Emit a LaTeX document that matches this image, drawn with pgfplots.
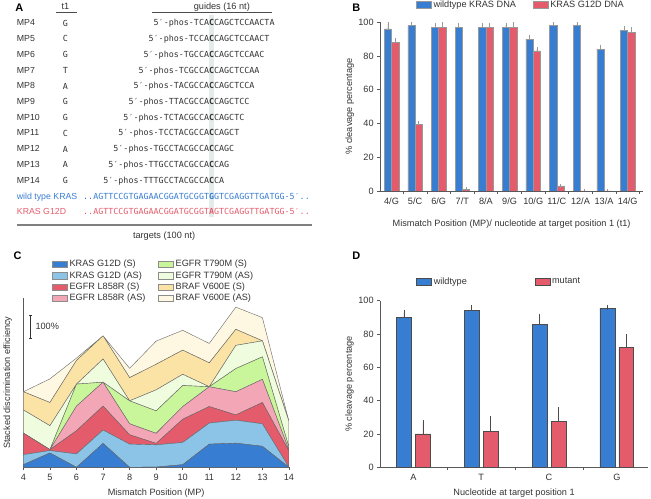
\documentclass[border=0pt]{standalone}
\usepackage{pgfplots}
\pgfplotsset{compat=1.18}
\usepackage{pgfplotstable}
\usepackage{fontspec}
\setmainfont{Liberation Sans}
\newfontfamily\mono{DejaVu Sans Mono}
\usetikzlibrary{arrows.meta}

\definecolor{kblue}{HTML}{377DD2}
\definecolor{kred}{HTML}{E45C6C}
\definecolor{lblue}{HTML}{8CC4E8}
\definecolor{lpink}{HTML}{F3A6B6}
\definecolor{lgreen}{HTML}{C9F59B}
\definecolor{pgreen}{HTML}{EFFCDD}
\definecolor{lorange}{HTML}{FBE3A5}
\definecolor{cream}{HTML}{FEF8E3}
\definecolor{txt}{HTML}{333333}
\definecolor{hl}{HTML}{E4ECEA}

\newcommand\lab{\fontsize{9.2}{11}\selectfont}
\newcommand\alab{\fontsize{8.8}{10}\selectfont}
\newcommand\seq{\mono\fontsize{8.4}{10}\selectfont}
\newlength\cw

% panel B: cleavage per mismatch position
\pgfplotstableread{
x wt wte mu mue
0 96 3 88 1.5
1 98 1.5 39.5 1
2 97 1.5 97 2
3 97 1.5 1 0.3
4 97 1.5 97 1.5
5 97 1.5 97 2
6 90 1.5 83 1
7 98 1.2 3 0
8 98 1.2 0 0
9 84 1.5 0 0
10 95 1.5 94 1.8
}\btab

% panel D: cleavage per nucleotide
\pgfplotstableread{
x wt wte mu mue
0 90 3 20 7
1 94 2 21.5 8
2 86 4.8 27.5 7.2
3 95.5 0.5 72 6.5
}\dtab

% panel C: stacked discrimination efficiency (%)
\pgfplotstableread{
x  ks   kas  ls   las  ts   tas  bs   bas
4  11   42   90   0    0    97   76   0
5  60   10   4    0    0    100  97   99
6  0    56   97   103  92   0    99   10
7  100  56   100  100  0    97   97   0
8  0    97   39   46   96   0    97   39
9  1    93   6    42   94   88   107  97
10 11   93   97   53   88   47   101  83
11 97   88   69   83   0    0    100  81
12 101  96   22   97   97   97   67   93
13 88   94   89   97   94   67   0    97
14 0    0    68   4    12   108  0    0
}\ctab

\pgfplotsset{
  swatch/.style={legend image code/.code={\draw[##1] (0pt,-3.3pt) rectangle (15pt,3.3pt);}},
  panel/.style={scale only axis, anchor=south west,
    axis x line*=bottom, axis y line*=left, tick align=outside,
    axis line style={draw=black!65, line width=0.6pt},
    every tick/.style={draw=black!65, line width=0.6pt},
    major tick length=3pt, minor tick length=3pt,
    tick label style={font=\lab, text=txt},
    label style={font=\lab, text=txt},
    /pgf/number format/assume math mode=true,
    legend style={draw=none, fill=none, inner sep=0pt, font=\lab, text=txt,
      nodes={inner xsep=2pt, inner ysep=1pt}},
    legend cell align=left,
  },
}

\begin{document}
\settowidth\cw{\seq A}
\begin{tikzpicture}
\useasboundingbox (0pt,0pt) rectangle (651pt,-501pt);

% ---------- panel A ----------
\fill[hl] ({207pt-0.3pt},-15pt) rectangle ({207pt+\cw+0.3pt},-218pt);
\node[font=\bfseries\fontsize{11}{12}\selectfont] at (16.7pt,-7.3pt) {A};
\node[font=\lab, text=txt] at (63pt,-6pt) {t1};
\draw[black!70, line width=0.7pt] (53pt,-12.7pt) -- (75pt,-12.7pt);
\node[font=\lab, text=txt] at (220pt,-6.7pt) {guides (16 nt)};
\draw[black!70, line width=0.7pt] (150pt,-12.7pt) -- (270pt,-12.7pt);
\foreach \k/\t/\a/\b/\c in {4/G/TCA/C/CAGCTCCAACTA, 5/C/TCCA/C/CAGCTCCAACT,
  6/G/TGCCA/C/CAGCTCCAAC, 7/T/TCGCCA/C/CAGCTCCAA, 8/A/TACGCCA/C/CAGCTCCA,
  9/G/TTACGCCA/C/CAGCTCC, 10/G/TCTACGCCA/C/CAGCTC, 11/C/TCCTACGCCA/C/CAGCT,
  12/A/TGCCTACGCCA/C/CAGC, 13/A/TTGCCTACGCCA/C/CAG, 14/G/TTTGCCTACGCCA/C/CA}{
  \node[anchor=mid west, inner sep=0pt, font=\alab, text=txt] at (14pt,{-(23.3+15.8*(\k-4))*1pt}) {MP\k};
  \node[inner sep=0pt, text=txt] at (63pt,{-(23.3+15.8*(\k-4))*1pt}) {\seq \t};
  \node[anchor=mid west, inner sep=0pt, text=txt] at ({207pt-(7+\k)*\cw},{-(23.3+15.8*(\k-4))*1pt})
    {\seq 5′-phos-\a\textbf{\b}\c};
}
\node[anchor=mid west, inner sep=0pt, font=\alab, text=kblue] at (14pt,-197.3pt) {wild type KRAS};
\node[anchor=mid west, inner sep=0pt, text=kblue] at ({207pt-25*\cw},-197.3pt)
  {\seq ..AGTTCCGTGAGAACGGATGCGGT\textbf{G}GTCGAGGTTGATGG-5′..};
\node[anchor=mid west, inner sep=0pt, font=\alab, text=kred] at (14pt,-213pt) {KRAS G12D};
\node[anchor=mid west, inner sep=0pt, text=kred] at ({207pt-25*\cw},-213pt)
  {\seq ..AGTTCCGTGAGAACGGATGCGGT\textbf{A}GTCGAGGTTGATGG-5′..};
\draw[black!50, line width=1.3pt] (14pt,-226pt) -- (311pt,-226pt);
\node[font=\lab, text=txt] at (162pt,-237pt) {targets (100 nt)};

% ---------- panel B ----------
\node[font=\bfseries\fontsize{11}{12}\selectfont] at (355pt,-7.5pt) {B};
\begin{axis}[panel, at={(379pt,-191.7pt)}, width=264pt, height=169.4pt,
  xmin=-0.48, xmax=10.65, ymin=0, ymax=100,
  ytick={0,20,...,100},
  xtick={0,...,10}, xticklabels={4/G,5/C,6/G,7/T,8/A,9/G,10/G,11/C,12/A,13/A,14/G},
  minor xtick={0.5,1.5,...,10.5}, major x tick style={draw=none},
  ybar, bar width=7.3pt,
  xlabel={Mismatch Position (MP)/ nucleotide at target position 1 (t1)},
  ylabel={\% cleavage percentage},
  xlabel style={at={(axis description cs:0.5,-0.198)}, anchor=center},
  ylabel style={at={(axis description cs:-0.116,0.5)}, anchor=center},
  legend columns=2,
  legend style={at={(axis description cs:0.136,1.102)}, anchor=west,
    /tikz/every even column/.append style={column sep=15pt}},
]
\addplot[swatch, fill=kblue, draw=black!40, line width=0.5pt, bar shift=-3.65pt,
  error bars/.cd, y dir=plus, y explicit,
  error bar style={draw=black!40, line width=0.6pt},
  error mark options={draw=black!40, mark size=2pt, line width=0.6pt}]
  table[x=x, y=wt, y error=wte]{\btab};
\addlegendentry{wildtype KRAS DNA}
\addplot[swatch, fill=kred, draw=black!40, line width=0.5pt, bar shift=3.65pt,
  error bars/.cd, y dir=plus, y explicit,
  error bar style={draw=black!40, line width=0.6pt},
  error mark options={draw=black!40, mark size=2pt, line width=0.6pt}]
  table[x=x, y=mu, y error=mue]{\btab};
\addlegendentry{KRAS G12D DNA}
\end{axis}

% ---------- panel C ----------
\node[font=\bfseries\fontsize{11}{12}\selectfont] at (15pt,-257pt) {C};
\begin{axis}[panel, at={(20.7pt,-469.3pt)}, width=266.7pt, height=170pt,
  xmin=4, xmax=14, ymin=0, ymax=708, stack plots=y,
  xtick={4,...,14}, ytick=\empty,
  xlabel={Mismatch Position (MP)}, ylabel={Stacked discrimination efficiency},
  xlabel style={at={(axis description cs:0.5,-0.153)}, anchor=center},
  ylabel style={at={(axis description cs:-0.059,0.5)}, anchor=center},
  legend columns=2,
  legend style={at={(axis description cs:0.108,1.230)}, anchor=north west,
    row sep=1.2pt,
    /tikz/every even column/.append style={column sep=11pt}},
]
\addplot[forget plot, fill=kblue, draw=black!60, line width=0.4pt] table[x=x, y=ks]{\ctab} \closedcycle;
\addplot[forget plot, fill=lblue, draw=black!60, line width=0.4pt] table[x=x, y=kas]{\ctab} \closedcycle;
\addplot[forget plot, fill=kred, draw=black!60, line width=0.4pt] table[x=x, y=ls]{\ctab} \closedcycle;
\addplot[forget plot, fill=lpink, draw=black!60, line width=0.4pt] table[x=x, y=las]{\ctab} \closedcycle;
\addplot[forget plot, fill=lgreen, draw=black!60, line width=0.4pt] table[x=x, y=ts]{\ctab} \closedcycle;
\addplot[forget plot, fill=pgreen, draw=black!60, line width=0.4pt] table[x=x, y=tas]{\ctab} \closedcycle;
\addplot[forget plot, fill=lorange, draw=black!60, line width=0.4pt] table[x=x, y=bs]{\ctab} \closedcycle;
\addplot[forget plot, fill=cream, draw=black!60, line width=0.4pt] table[x=x, y=bas]{\ctab} \closedcycle;
\addlegendimage{swatch, fill=kblue, draw=black!45}\addlegendentry{KRAS G12D (S)}
\addlegendimage{swatch, fill=lgreen, draw=black!45}\addlegendentry{EGFR T790M (S)}
\addlegendimage{swatch, fill=lblue, draw=black!45}\addlegendentry{KRAS G12D (AS)}
\addlegendimage{swatch, fill=pgreen, draw=black!45}\addlegendentry{EGFR T790M (AS)}
\addlegendimage{swatch, fill=kred, draw=black!45}\addlegendentry{EGFR L858R (S)}
\addlegendimage{swatch, fill=lorange, draw=black!45}\addlegendentry{BRAF V600E (S)}
\addlegendimage{swatch, fill=lpink, draw=black!45}\addlegendentry{EGFR L858R (AS)}
\addlegendimage{swatch, fill=cream, draw=black!45}\addlegendentry{BRAF V600E (AS)}
\draw[black!80, line width=0.7pt, {Bar[width=3pt]}-{Bar[width=3pt]}] (axis cs:4.28,539) -- (axis cs:4.28,639);
\node[anchor=west, font=\lab, text=txt, inner sep=0pt] at (axis cs:4.45,589) {100\%};
\end{axis}

% ---------- panel D ----------
\node[font=\bfseries\fontsize{11}{12}\selectfont] at (355pt,-257pt) {D};
\begin{axis}[panel, at={(379pt,-469.3pt)}, width=269pt, height=167.3pt,
  xmin=-0.49, xmax=3.46, ymin=0, ymax=100,
  ytick={0,20,...,100},
  xtick={0,...,3}, xticklabels={A,T,C,G},
  minor xtick={0.5,1.5,2.5}, major x tick style={draw=none},
  ybar, bar width=15pt,
  xlabel={Nucleotide at target position 1},
  ylabel={\% cleavage percentage},
  xlabel style={at={(axis description cs:0.5,-0.154)}, anchor=center},
  ylabel style={at={(axis description cs:-0.114,0.5)}, anchor=center},
  legend columns=2,
  legend style={at={(axis description cs:0.134,1.115)}, anchor=west,
    /tikz/every even column/.append style={column sep=66pt}},
]
\addplot[swatch, fill=kblue, draw=black!70, line width=0.6pt, bar shift=-9.5pt,
  error bars/.cd, y dir=plus, y explicit,
  error bar style={draw=black!70, line width=0.6pt},
  error mark options={draw=black!70, mark size=2.5pt, line width=0.6pt}]
  table[x=x, y=wt, y error=wte]{\dtab};
\addlegendentry{wildtype}
\addplot[swatch, fill=kred, draw=black!70, line width=0.6pt, bar shift=9.5pt,
  error bars/.cd, y dir=plus, y explicit,
  error bar style={draw=black!70, line width=0.6pt},
  error mark options={draw=black!70, mark size=2.5pt, line width=0.6pt}]
  table[x=x, y=mu, y error=mue]{\dtab};
\addlegendentry{mutant}
\end{axis}
\end{tikzpicture}
\end{document}
